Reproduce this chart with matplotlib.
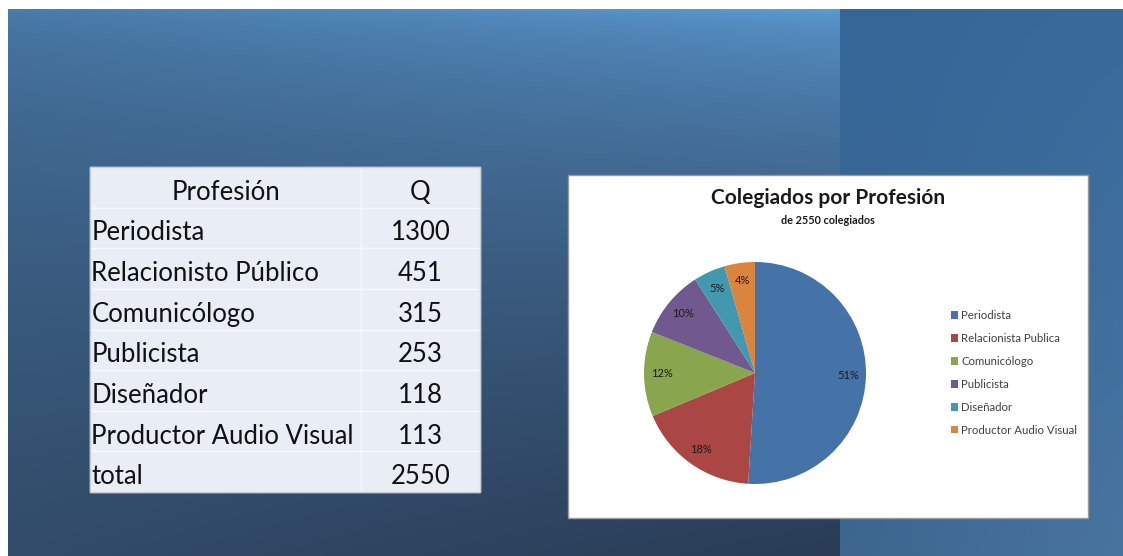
import numpy as np
import matplotlib
matplotlib.use("Agg")
import matplotlib.pyplot as plt
from matplotlib.patches import Rectangle
from matplotlib.transforms import Affine2D

# ==== Data ====
profesiones = ["Periodista", "Relacionisto Público", "Comunicólogo",
               "Publicista", "Diseñador", "Productor Audio Visual"]
cantidades = [1300, 451, 315, 253, 118, 113]
total = 2550
leyenda = ["Periodista", "Relacionista Publica", "Comunicólogo",
           "Publicista", "Diseñador", "Productor Audio Visual"]
colores = ["#4572A7", "#AA4643", "#89A54E", "#71588F", "#4198AF", "#DB843D"]

W, H = 1123, 556
plt.rcParams['font.family'] = ['Lato', 'DejaVu Sans']

fig = plt.figure(figsize=(W / 100, H / 100), dpi=100)
fig.patch.set_facecolor("white")

# ==== Background (slide) ====
bg = fig.add_axes([0, 0, 1, 1])
bg.set_xlim(0, W)
bg.set_ylim(H, 0)
bg.axis("off")

def bilinear(tl, tr, bl, br, nx, ny, gamma=1.0):
    tx = np.linspace(0, 1, nx)[None, :, None]
    ty = (np.linspace(0, 1, ny) ** gamma)[:, None, None]
    tl, tr, bl, br = [np.array(c)[None, None, :] / 255 for c in (tl, tr, bl, br)]
    top = tl * (1 - tx) + tr * tx
    bot = bl * (1 - tx) + br * tx
    return top * (1 - ty) + bot * ty

left = bilinear((74, 125, 172), (92, 156, 214), (50, 76, 106), (42, 60, 86), 200, 200, 0.55)
bg.imshow(left, extent=[8, 840, H, 9], aspect="auto", interpolation="bilinear")
right = bilinear((52, 102, 152), (56, 106, 156), (62, 102, 142), (72, 116, 160), 50, 200)
bg.imshow(right, extent=[840, W, H, 9], aspect="auto", interpolation="bilinear")
bg.set_xlim(0, W)
bg.set_ylim(H, 0)

# ==== Table ====
x0, y0, tw, th = 90, 167, 390, 325
rows = [["Profesión", "Q"]] + [[p, str(c)] for p, c in zip(profesiones, cantidades)] + [["total", str(total)]]
tab = bg.table(cellText=rows, colWidths=[271 / tw, 119 / tw], cellLoc="center",
               bbox=[x0 / W, 1 - (y0 + th) / H, tw / W, th / H])
tab.auto_set_font_size(False)
for (r, c), cell in tab.get_celld().items():
    cell.set_facecolor("#E9EDF5")
    cell.set_edgecolor("#F7F8FB")
    cell.set_linewidth(1.0)
    txt = cell.get_text()
    txt.set_fontsize(18.5)
    txt.set_color("#111111")
    txt.set_transform(Affine2D().translate(0, -5))  # text sits a bit low in the cells
    if c == 0 and r > 0:
        txt.set_horizontalalignment("left")
        cell.PAD = 0.005
bg.add_patch(Rectangle((x0, y0), tw, th, fill=False, edgecolor="#C8CCD4", lw=1, zorder=5))

# ==== Chart box ====
bg.add_patch(Rectangle((568, 175), 520, 343, facecolor="white", edgecolor="#9A9A9A", lw=1, zorder=2))
fig.text(828 / W, 1 - 198 / H, "Colegiados por Profesión", ha="center", va="center",
         fontsize=15, fontweight="bold", color="#1a1a1a")
fig.text(828 / W, 1 - 220 / H, "de 2550 colegiados", ha="center", va="center",
         fontsize=7.8, fontweight="bold", color="#1a1a1a")

cx, cy, rad = 755, 373, 111
pa = fig.add_axes([(cx - rad) / W, 1 - (cy + rad) / H, 2 * rad / W, 2 * rad / H])
wedges, texts, autotexts = pa.pie(cantidades, colors=colores, startangle=90, counterclock=False,
                                  autopct=lambda p: f"{p:.0f}%", pctdistance=0.84,
                                  wedgeprops=dict(linewidth=0))
for t in autotexts:
    t.set_fontsize(8)
    t.set_color("#1a1a1a")
pa.set_xlim(-1, 1)
pa.set_ylim(-1, 1)
pa.set_aspect("equal")

leg = fig.legend(wedges, leyenda, loc="center left", bbox_to_anchor=(951 / W, 1 - 373 / H),
                 frameon=False, fontsize=8.2, handlelength=0.6, handleheight=0.6,
                 handletextpad=0.3, labelspacing=1.05, borderaxespad=0, borderpad=0)
for t in leg.get_texts():
    t.set_color("#404040")

fig.savefig("out.png", dpi=100)
